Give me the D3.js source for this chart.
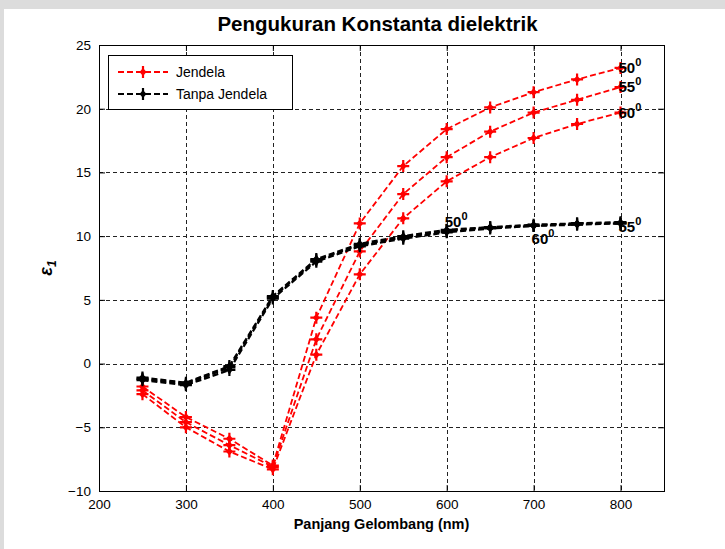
<!DOCTYPE html>
<html>
<head>
<meta charset="utf-8">
<script src="https://cdn.jsdelivr.net/npm/d3@7"></script>
<style>
  html, body { margin: 0; padding: 0; background: #fff; }
  svg { display: block; font-family: "Liberation Sans", Arial, sans-serif; }
</style>
</head>
<body>
<svg id="chart" width="725" height="549"></svg>
<script>
// wavelength (nm)
const wavelength = [250, 300, 350, 400, 450, 500, 550, 600, 650, 700, 750, 800];

// with window (Jendela), three incidence angles
const jendela50 = [-1.8, -4.2, -5.9, -8.0, 3.6, 11.0, 15.5, 18.4, 20.1, 21.3, 22.3, 23.2];
const jendela55 = [-2.1, -4.6, -6.4, -8.1, 1.9, 8.8, 13.3, 16.2, 18.2, 19.7, 20.7, 21.7];
const jendela60 = [-2.4, -5.0, -6.9, -8.3, 0.7, 7.0, 11.4, 14.3, 16.2, 17.7, 18.8, 19.7];

// without window (Tanpa Jendela)
const tanpa50 = [-1.1, -1.5, -0.2, 5.3, 8.2, 9.4, 10.0, 10.5, 10.7, 10.9, 11.0, 11.1];
const tanpa55 = [-1.2, -1.6, -0.3, 5.2, 8.1, 9.3, 9.9, 10.4, 10.7, 10.8, 11.0, 11.0];
const tanpa60 = [-1.3, -1.7, -0.5, 5.1, 8.0, 9.2, 9.8, 10.3, 10.6, 10.8, 10.9, 11.0];

const xTicks = [200, 300, 400, 500, 600, 700, 800];
const yTicks = [-10, -5, 0, 5, 10, 15, 20, 25];

// angle annotations (data coordinates)
const angleText = ["50", "55", "60", "50", "60", "55"];
const angleX = [800, 800, 800, 600, 700, 800];
const angleY = [23.2, 21.7, 19.7, 11.1, 9.8, 10.7];

const svg = d3.select("#chart");
const W = 725, H = 549;
const plot = { left: 99, right: 664, top: 45, bottom: 491 };

// figure frame
svg.append("rect").attr("width", W).attr("height", H).attr("fill", "#fff");
svg.append("rect").attr("width", W).attr("height", 9).attr("fill", "#dcdcdc");
svg.append("rect").attr("width", 4).attr("height", H).attr("fill", "#dcdcdc");

const x = d3.scaleLinear().domain([200, 850]).range([plot.left, plot.right]);
const y = d3.scaleLinear().domain([-10, 25]).range([plot.bottom, plot.top]);

// grid
const grid = svg.append("g")
  .attr("stroke", "#222")
  .attr("stroke-width", 1)
  .attr("stroke-dasharray", "4,3");
grid.selectAll(".gx").data(xTicks.filter(d => d > 200)).join("line")
  .attr("x1", d => Math.round(x(d)) + 0.5).attr("x2", d => Math.round(x(d)) + 0.5)
  .attr("y1", plot.top).attr("y2", plot.bottom);
grid.selectAll(".gy").data(yTicks.filter(d => d > -10 && d < 25)).join("line")
  .attr("y1", d => Math.round(y(d)) + 0.5).attr("y2", d => Math.round(y(d)) + 0.5)
  .attr("x1", plot.left).attr("x2", plot.right);

// axes with inward ticks on all four sides
function styleAxis(g) {
  g.select(".domain").remove();
  g.selectAll(".tick line").attr("stroke", "#000");
  g.selectAll(".tick text")
    .attr("fill", "#000")
    .style("font-size", "13.5px")
    .style("font-family", "'Liberation Sans', Arial, sans-serif");
}
svg.append("g").attr("transform", `translate(0,${plot.bottom})`)
  .call(d3.axisBottom(x).tickValues(xTicks).tickSizeInner(-6).tickPadding(8))
  .call(styleAxis);
svg.append("g").attr("transform", `translate(0,${plot.top})`)
  .call(d3.axisTop(x).tickValues(xTicks).tickSizeInner(-6).tickFormat(""))
  .call(styleAxis);
svg.append("g").attr("transform", `translate(${plot.left},0)`)
  .call(d3.axisLeft(y).tickValues(yTicks).tickSizeInner(-6).tickPadding(8))
  .call(styleAxis);
svg.append("g").attr("transform", `translate(${plot.right},0)`)
  .call(d3.axisRight(y).tickValues(yTicks).tickSizeInner(-6).tickFormat(""))
  .call(styleAxis);

svg.append("rect")
  .attr("x", plot.left + 0.5).attr("y", plot.top + 0.5)
  .attr("width", plot.right - plot.left).attr("height", plot.bottom - plot.top)
  .attr("fill", "none").attr("stroke", "#000").attr("stroke-width", 1);

// star-like marker
function drawMarker(g, cx, cy, color) {
  g.append("path")
    .attr("d", `M${cx - 6},${cy}L${cx + 6},${cy}M${cx},${cy - 6}L${cx},${cy + 6}`)
    .attr("stroke", color).attr("stroke-width", 2.2).attr("fill", "none");
  g.append("path")
    .attr("d", `M${cx},${cy - 4}L${cx + 3.5},${cy}L${cx},${cy + 4}L${cx - 3.5},${cy}Z`)
    .attr("fill", color);
}

const line = d3.line().x((d, i) => x(wavelength[i])).y(d => y(d));

function drawSeries(values, color, width) {
  const g = svg.append("g");
  g.append("path")
    .datum(values)
    .attr("d", line)
    .attr("fill", "none")
    .attr("stroke", color)
    .attr("stroke-width", width)
    .attr("stroke-dasharray", "6,3");
  values.forEach((v, i) => drawMarker(g, x(wavelength[i]), y(v), color));
}

const red = "#ff0000";
[jendela50, jendela55, jendela60].forEach(s => drawSeries(s, red, 1.8));
[tanpa50, tanpa55, tanpa60].forEach(s => drawSeries(s, "#000", 2.2));

// angle labels
const labels = svg.append("g")
  .style("font-size", "15px").style("font-weight", "bold").attr("fill", "#000");
angleText.forEach((t, i) => {
  const txt = labels.append("text")
    .attr("x", x(angleX[i]) - 2)
    .attr("y", y(angleY[i]) + 5);
  txt.append("tspan").text(t);
  txt.append("tspan").attr("dy", -7).style("font-size", "11px").text("0");
});

// legend
const legend = svg.append("g");
legend.append("rect")
  .attr("x", 108.5).attr("y", 55.5).attr("width", 184).attr("height", 54)
  .attr("fill", "#fff").attr("stroke", "#000");
const legendItems = [["Jendela", red], ["Tanpa Jendela", "#000"]];
legendItems.forEach(([name, color], i) => {
  const ly = 72 + i * 22;
  legend.append("line")
    .attr("x1", 118).attr("x2", 168).attr("y1", ly).attr("y2", ly)
    .attr("stroke", color).attr("stroke-width", 2).attr("stroke-dasharray", "6,3");
  drawMarker(legend, 143, ly, color);
  legend.append("text")
    .attr("x", 176).attr("y", ly + 5)
    .style("font-size", "14px").attr("fill", "#000")
    .text(name);
});

// title and axis labels
svg.append("text")
  .attr("x", (plot.left + plot.right) / 2 - 4).attr("y", 31)
  .attr("text-anchor", "middle")
  .style("font-size", "20.5px").style("font-weight", "bold")
  .text("Pengukuran Konstanta dielektrik");

svg.append("text")
  .attr("x", (plot.left + plot.right) / 2).attr("y", 529)
  .attr("text-anchor", "middle")
  .style("font-size", "14.5px").style("font-weight", "bold")
  .text("Panjang Gelombang (nm)");

const ylab = svg.append("text")
  .attr("transform", "translate(52,268) rotate(-90)")
  .attr("text-anchor", "middle")
  .style("font-size", "18px").style("font-weight", "bold").style("font-style", "italic");
ylab.append("tspan").text("ε");
ylab.append("tspan").attr("dy", 4).style("font-size", "12px").text("1");
</script>
</body>
</html>
